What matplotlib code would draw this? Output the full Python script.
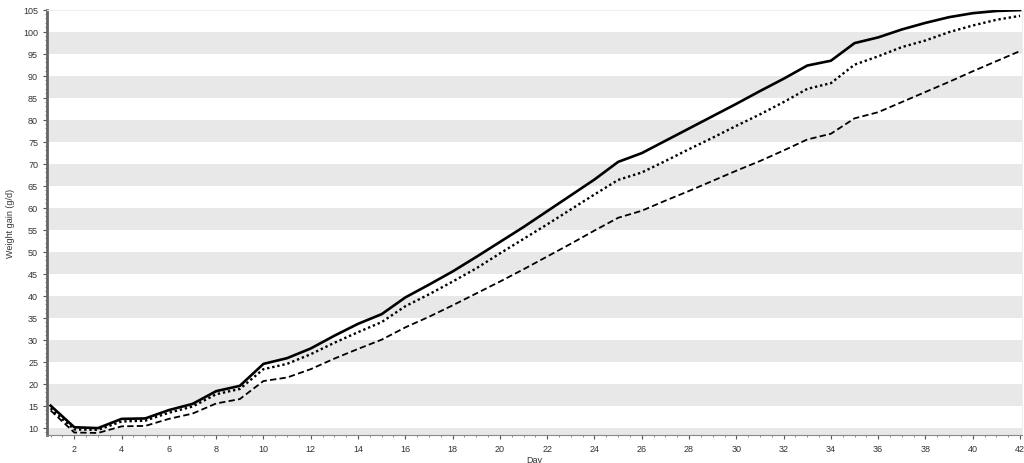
import matplotlib
matplotlib.use("Agg")
import matplotlib.pyplot as plt
from matplotlib.ticker import MultipleLocator

days = list(range(1, 43))

solid = [15.0, 10.1, 9.9, 12.0, 12.1, 14.0, 15.4, 18.3, 19.5, 24.5,
         25.8, 28.0, 30.9, 33.6, 35.8, 39.6, 42.5, 45.5, 48.8, 52.2,
         55.6, 59.2, 62.8, 66.4, 70.4, 72.4, 75.2, 78.0, 80.8, 83.6,
         86.5, 89.3, 92.3, 93.4, 97.4, 98.7, 100.5, 102.0, 103.3, 104.2,
         104.7, 104.9]

dotted = [14.4, 9.6, 9.5, 11.4, 11.6, 13.4, 14.8, 17.6, 18.8, 23.3,
          24.5, 26.7, 29.3, 31.7, 34.0, 37.6, 40.3, 43.2, 46.2, 49.6,
          52.9, 56.2, 59.6, 63.0, 66.3, 68.0, 70.6, 73.3, 75.9, 78.6,
          81.2, 84.0, 87.0, 88.3, 92.5, 94.4, 96.5, 98.0, 99.9, 101.4,
          102.7, 103.6]

dashed = [13.9, 8.9, 8.8, 10.3, 10.4, 12.0, 13.2, 15.5, 16.5, 20.6,
          21.4, 23.3, 25.7, 27.9, 30.0, 32.8, 35.2, 37.8, 40.5, 43.2,
          46.0, 48.9, 51.8, 54.8, 57.7, 59.3, 61.6, 63.8, 66.1, 68.4,
          70.6, 73.0, 75.5, 76.8, 80.3, 81.7, 84.0, 86.3, 88.6, 91.0,
          93.3, 95.6]

# grey bands: 5-10, 15-20, ... 95-100
band_starts = list(range(5, 100, 10))

plt.rcParams['font.family'] = ['Liberation Sans', 'DejaVu Sans']

fig = plt.figure(figsize=(10.24, 4.64), dpi=100)
ax = fig.add_axes([0.046, 0.060, 0.952, 0.917])

for b in band_starts:
    ax.axhspan(b, b + 5, color='#e8e8e8', lw=0, zorder=0)

ax.plot(days, solid, '-', color='black', lw=1.9, zorder=3)
ax.plot(days, dotted, color='black', lw=1.7, linestyle=(0, (1, 1.2)), zorder=3)
ax.plot(days, dashed, color='black', lw=1.3, linestyle=(0, (3.5, 1.8)), zorder=3)

ax.set_xlim(0.85, 42.08)
ax.set_ylim(8.3, 105)

ax.xaxis.set_major_locator(MultipleLocator(2))
ax.xaxis.set_minor_locator(MultipleLocator(0.5))
ax.yaxis.set_major_locator(MultipleLocator(5))
ax.yaxis.set_minor_locator(MultipleLocator(1))

ax.tick_params(axis='both', which='major', labelsize=6.5, colors='#555555',
               labelcolor='#333333', length=3, width=0.8)
ax.tick_params(axis='both', which='minor', colors='#777777', length=1.5, width=0.6)

ax.spines['left'].set_color('#666666')
ax.spines['left'].set_linewidth(2)
ax.spines['bottom'].set_color('#888888')
ax.spines['bottom'].set_linewidth(0.8)
ax.spines['top'].set_color('#eeeeee')
ax.spines['top'].set_linewidth(0.8)
ax.spines['right'].set_color('#eeeeee')
ax.spines['right'].set_linewidth(0.8)

ax.set_xlabel('Day', fontsize=6.5, color='#333333', labelpad=1)
ax.set_ylabel('Weight gain (g/d)', fontsize=6.5, color='#333333', labelpad=6)

fig.savefig('out.png', dpi=100)
